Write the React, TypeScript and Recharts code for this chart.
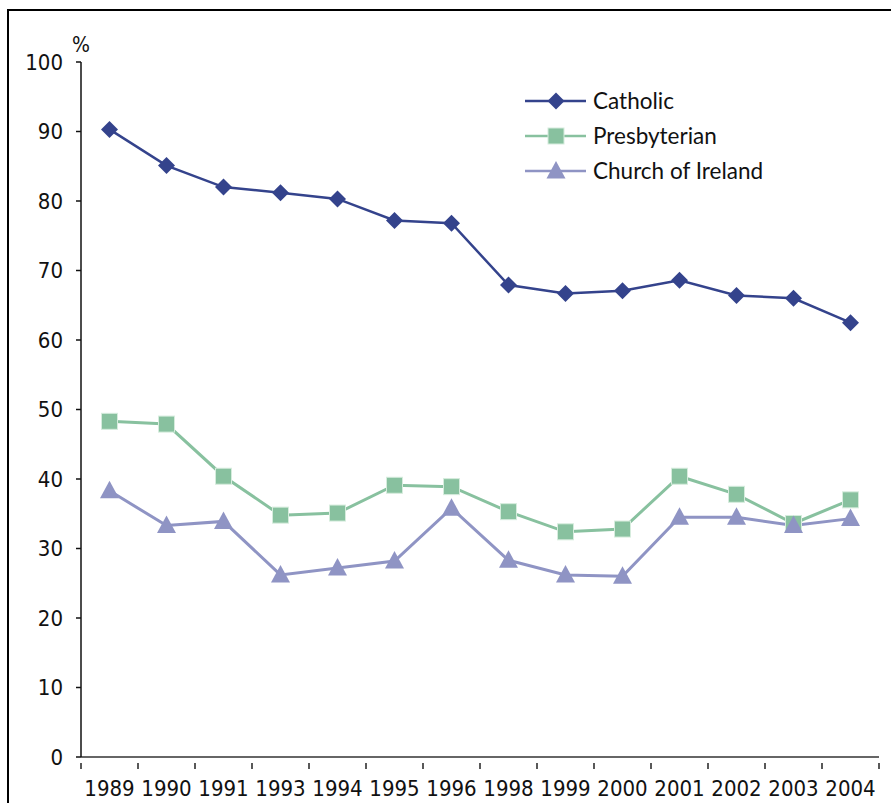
import React from 'react';
import { LineChart, Line, XAxis, YAxis, Label } from 'recharts';

const years = ['1989', '1990', '1991', '1993', '1994', '1995', '1996', '1998', '1999', '2000', '2001', '2002', '2003', '2004'];
const catholic = [90.3, 85.1, 82.0, 81.2, 80.3, 77.2, 76.8, 67.9, 66.7, 67.1, 68.6, 66.4, 66.0, 62.5];
const presbyterian = [48.3, 47.9, 40.4, 34.8, 35.1, 39.1, 38.9, 35.3, 32.4, 32.8, 40.4, 37.8, 33.6, 37.0];
const churchOfIreland = [38.3, 33.3, 33.9, 26.2, 27.2, 28.2, 35.8, 28.3, 26.2, 26.0, 34.5, 34.5, 33.3, 34.3];
const yTicks = [0, 10, 20, 30, 40, 50, 60, 70, 80, 90, 100];

const COLORS = {
  catholic: '#34438c',
  presbyterian: '#88c19f',
  churchOfIreland: '#8f94c4',
};

const SERIES = [
  { key: 'catholic', name: 'Catholic', color: COLORS.catholic },
  { key: 'presbyterian', name: 'Presbyterian', color: COLORS.presbyterian },
  { key: 'churchOfIreland', name: 'Church of Ireland', color: COLORS.churchOfIreland },
];

const TICK_FONT = "'DejaVu Sans Condensed', 'DejaVu Sans', sans-serif";
const LEGEND_FONT = "Lato, 'Open Sans', sans-serif";

const data = years.map((year, i) => ({
  year,
  catholic: catholic[i],
  presbyterian: presbyterian[i],
  churchOfIreland: churchOfIreland[i],
}));

const Diamond = ({ cx, cy, fill }: any) => {
  if (cx == null || cy == null) return null;
  const s = 8.5;
  return <polygon points={`${cx},${cy - s} ${cx + s},${cy} ${cx},${cy + s} ${cx - s},${cy}`} fill={fill} />;
};

const Square = ({ cx, cy, fill }: any) => {
  if (cx == null || cy == null) return null;
  const s = 8;
  return <rect x={cx - s} y={cy - s} width={s * 2} height={s * 2} fill={fill} stroke="#d6ecdd" strokeWidth={1} />;
};

const Triangle = ({ cx, cy, fill }: any) => {
  if (cx == null || cy == null) return null;
  return <polygon points={`${cx},${cy - 10} ${cx + 9.5},${cy + 7.5} ${cx - 9.5},${cy + 7.5}`} fill={fill} />;
};

const markerFor = (key: string, fill: string, cx: number, cy: number) => {
  if (key === 'catholic') return <Diamond cx={cx} cy={cy} fill={fill} />;
  if (key === 'presbyterian') return <Square cx={cx} cy={cy} fill={fill} />;
  return <Triangle cx={cx} cy={cy} fill={fill} />;
};

// year label at the band centre, small tick marks on the band edges
const YearTick = ({ x, y, payload, index }: any) => {
  const half = payload && payload.offset ? payload.offset : 28.5;
  return (
    <g>
      <line x1={x - half} y1={y - 2} x2={x - half} y2={y + 4} stroke="#222" strokeWidth={1.5} />
      {index === years.length - 1 && (
        <line x1={x + half} y1={y - 2} x2={x + half} y2={y + 4} stroke="#222" strokeWidth={1.5} />
      )}
      <text x={x} y={y + 31} textAnchor="middle" fontSize={22} fontFamily={TICK_FONT} fill="#111">
        {payload.value}
      </text>
    </g>
  );
};

const ChartLegend = () => (
  <div style={{ position: 'absolute', left: 525, top: 83 }}>
    {SERIES.map((s) => (
      <div key={s.key} style={{ display: 'flex', alignItems: 'center', height: 35 }}>
        <svg width={62} height={22}>
          <line x1={0} y1={11} x2={61} y2={11} stroke={s.color} strokeWidth={2.5} />
          {markerFor(s.key, s.color, 31, 11)}
        </svg>
        <span style={{ marginLeft: 6, fontFamily: LEGEND_FONT, fontSize: 22.5, color: '#111' }}>{s.name}</span>
      </div>
    ))}
  </div>
);

const App: React.FC = () => {
  return (
    <div style={{ position: 'absolute', left: 0, top: 0, width: 891, height: 803, background: '#fff', overflow: 'hidden' }}>
      <div
        style={{
          position: 'absolute',
          left: 7,
          top: 9,
          width: 900,
          height: 820,
          borderLeft: '2px solid #000',
          borderTop: '2px solid #000',
        }}
      />
      <div style={{ position: 'absolute', left: 0, top: 0 }}>
        <LineChart width={891} height={803} data={data} margin={{ top: 62, right: 12, left: 21, bottom: 6 }}>
          <XAxis
            dataKey="year"
            scale="band"
            axisLine={{ stroke: '#333', strokeWidth: 1.5 }}
            tickLine={false}
            tick={<YearTick />}
            height={40}
            interval={0}
          />
          <YAxis
            domain={[0, 100]}
            ticks={yTicks}
            width={60}
            axisLine={{ stroke: '#111', strokeWidth: 1.5 }}
            tickLine={{ stroke: '#111', strokeWidth: 1.5 }}
            tickSize={5}
            tickMargin={13}
            tick={{ fontSize: 22, fontFamily: TICK_FONT, fill: '#111' }}
          >
            <Label
              content={({ viewBox }: any) => (
                <text
                  x={viewBox.x + viewBox.width}
                  y={viewBox.y - 10}
                  textAnchor="middle"
                  fontSize={21}
                  fontFamily={TICK_FONT}
                  fill="#111"
                >
                  %
                </text>
              )}
            />
          </YAxis>
          <Line
            dataKey="catholic"
            name="Catholic"
            stroke={COLORS.catholic}
            strokeWidth={2.5}
            isAnimationActive={false}
            dot={(p: any) => <Diamond key={`c-${p.index}`} cx={p.cx} cy={p.cy} fill={COLORS.catholic} />}
            activeDot={false}
          />
          <Line
            dataKey="presbyterian"
            name="Presbyterian"
            stroke={COLORS.presbyterian}
            strokeWidth={3}
            isAnimationActive={false}
            dot={(p: any) => <Square key={`p-${p.index}`} cx={p.cx} cy={p.cy} fill={COLORS.presbyterian} />}
            activeDot={false}
          />
          <Line
            dataKey="churchOfIreland"
            name="Church of Ireland"
            stroke={COLORS.churchOfIreland}
            strokeWidth={3}
            isAnimationActive={false}
            dot={(p: any) => <Triangle key={`i-${p.index}`} cx={p.cx} cy={p.cy} fill={COLORS.churchOfIreland} />}
            activeDot={false}
          />
        </LineChart>
      </div>
      <ChartLegend />
    </div>
  );
};

export default App;
